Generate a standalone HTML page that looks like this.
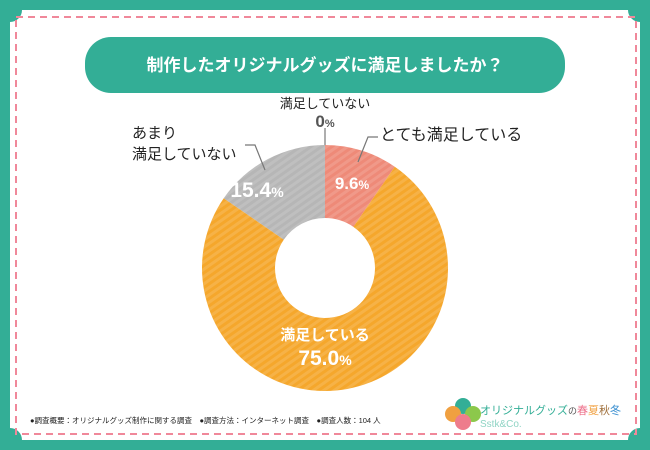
<!DOCTYPE html>
<html><head><meta charset="utf-8"><style>
body{margin:0;width:650px;height:450px;overflow:hidden;background:#33ae96;font-family:"Liberation Sans","Noto Sans CJK JP",sans-serif}
svg{display:block}
</style></head><body>
<svg width="650" height="450" viewBox="0 0 650 450">
<defs>
<pattern id="st" width="6" height="6" patternUnits="userSpaceOnUse" patternTransform="rotate(-35)">
<rect width="6" height="3" fill="rgba(255,255,255,0.13)"/>
</pattern>
</defs>
<path d="M22 10 H628 A12 12 0 0 0 640 22 V428 A12 12 0 0 0 628 440 H22 A12 12 0 0 0 10 428 V22 A12 12 0 0 0 22 10Z" fill="#fff"/>
<rect x="16" y="17" width="620" height="417" fill="none" stroke="#f0889a" stroke-width="2" stroke-dasharray="7,5"/>
<rect x="85" y="37" width="480" height="56" rx="26" fill="#33ae96"/>
<text x="325" y="71" text-anchor="middle" fill="#fff" font-size="17" font-weight="bold">制作したオリジナルグッズに満足しましたか？</text>
<g id="donut"></g>
<g stroke="#777" stroke-width="1.2" fill="none">
<path d="M325 128 V145"/><path d="M358 162 L368 137 H378"/><path d="M265 170 L255 145 H245"/>
</g>
<g font-size="16" fill="#222">
<text x="325" y="108" text-anchor="middle" font-size="13">満足していない</text>
<text x="325" y="127" text-anchor="middle" font-size="17" font-weight="bold" fill="#555">0<tspan font-size="11">%</tspan></text>
<text x="380" y="140">とても満足している</text>
<text x="132" y="138" font-size="15">あまり</text>
<text x="132" y="159" font-size="15">満足していない</text>
</g>
<g fill="#fff" font-weight="bold" text-anchor="middle">
<text x="352" y="189" font-size="17">9.6<tspan font-size="12">%</tspan></text>
<text x="257" y="197" font-size="21">15.4<tspan font-size="14">%</tspan></text>
<text x="325" y="340" font-size="15">満足している</text>
<text x="325" y="365" font-size="21">75.0<tspan font-size="14">%</tspan></text>
</g>
<text x="30" y="423" font-size="7.5" fill="#222">●調査概要：オリジナルグッズ制作に関する調査　●調査方法：インターネット調査　●調査人数：104 人</text>
<g>
<circle cx="463" cy="406" r="8" fill="#33ae96"/><circle cx="473" cy="414" r="8" fill="#8cc84b"/>
<circle cx="453" cy="414" r="8" fill="#f0a040"/><circle cx="463" cy="422" r="8" fill="#ee7c8c"/>
<text x="480" y="414" font-size="11" fill="#33ae96">オリジナルグッズ<tspan fill="#555" font-size="9">の</tspan><tspan fill="#ee6f8a">春</tspan><tspan fill="#f0a040">夏</tspan><tspan fill="#a0703c">秋</tspan><tspan fill="#3a8fd0">冬</tspan></text>
<text x="480" y="427" font-size="10" fill="#8fd4c4">Sstk&amp;Co.</text>
</g>
</svg>
<script>
const categories=["とても満足している","満足している","あまり満足していない","満足していない"];
const values=[9.6,75.0,15.4,0];
const colors=["#ee8a78","#f5a72c","#b6b6b6","#888"];
const cx=325,cy=268,R=123,r=50;
const g=document.getElementById('donut');
const ns="http://www.w3.org/2000/svg";
const total=values.reduce((a,b)=>a+b,0);
function pt(a,rad){return [cx+rad*Math.sin(a),cy-rad*Math.cos(a)];}
let acc=0;
values.forEach((v,i)=>{
 if(v<=0)return;
 const a0=acc/total*2*Math.PI;acc+=v;const a1=acc/total*2*Math.PI;
 const L=(a1-a0)>Math.PI?1:0;
 const [x0,y0]=pt(a0,R),[x1,y1]=pt(a1,R),[x2,y2]=pt(a1,r),[x3,y3]=pt(a0,r);
 const d=`M${x0} ${y0}A${R} ${R} 0 ${L} 1 ${x1} ${y1}L${x2} ${y2}A${r} ${r} 0 ${L} 0 ${x3} ${y3}Z`;
 const p=document.createElementNS(ns,'path');
 p.setAttribute('d',d);p.setAttribute('fill',colors[i]);
 
 
 g.appendChild(p);
 const s=document.createElementNS(ns,'path');
 s.setAttribute('d',d);s.setAttribute('fill','url(#st)');
 
 
 g.appendChild(s);
});
</script>
</body></html>
